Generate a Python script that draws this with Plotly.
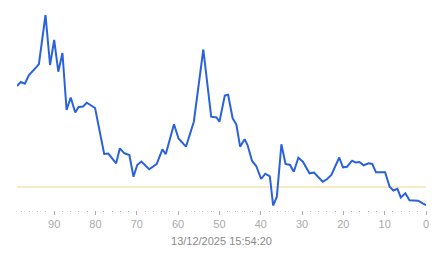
import plotly.graph_objects as go

# x = periods ago (axis reversed), y = value
x_vals = [99, 98.1, 97.1, 96.1, 94.2, 93.7, 92.1, 91, 90, 89, 88, 87, 86, 84.9, 84.1, 83, 82.1, 80.1,
          77.9, 76.9, 75, 74.1, 73, 71.8, 70.8, 69.9, 68.9, 67, 65.2, 63.8, 63, 61, 59.9, 58.1, 56.2,
          53.9, 52, 50.7, 50, 48.7, 47.9, 46.8, 45.9, 45, 43.9, 43.2, 42.1, 41.1, 39.9, 38.9, 37.8,
          37, 36.1, 35, 34, 32.9, 32, 30.9, 29.8, 28.2, 27.1, 26.1, 25, 24, 22.9, 21, 20.1, 19.1,
          17.9, 17.1, 16.1, 15.1, 13.9, 13, 12.1, 9.9, 8.8, 7.9, 6.9, 6.1, 5, 4, 1.9, 0.8, 0]
y_vals = [124, 128, 126.3, 135, 143.3, 146, 195, 145, 170, 138.3, 157, 100, 112.5, 97.5, 103, 103.5, 107.3, 102,
          56, 56.5, 46.7, 61.7, 56.7, 55, 33.3, 45, 48.5, 40.7, 46, 60.7, 55.7, 85.7, 71.5, 63.3, 88.3,
          160.5, 93.3, 92.5, 88.3, 114.5, 115.3, 91.7, 85.5, 63.3, 70.7, 65, 49, 44, 31, 36.3, 33.7,
          4.5, 13.3, 65.7, 46, 45, 38.3, 52.3, 48.3, 36.7, 37.5, 32.7, 28.3, 30.7, 35, 52.5, 42.7, 43.3,
          49.3, 47.5, 48, 44.7, 46.7, 46, 37.7, 37.7, 23.3, 19.5, 21.2, 12.5, 16.7, 9.7, 9.3, 6.7, 5]
threshold = 23
x_extent = [99, 0]
tick_vals = [90, 80, 70, 60, 50, 40, 30, 20, 10, 0]
timestamp = "13/12/2025 15:54:20"

fig = go.Figure()
fig.add_trace(go.Scatter(x=x_extent, y=[threshold, threshold], mode="lines",
                         line=dict(color="#efd98f", width=1), hoverinfo="skip"))
fig.add_trace(go.Scatter(x=x_vals, y=y_vals, mode="lines",
                         line=dict(color="#2a62dc", width=2), hoverinfo="skip"))

fig.update_layout(
    width=443, height=258,
    margin=dict(l=17, r=17, t=0, b=48),
    paper_bgcolor="white", plot_bgcolor="white",
    showlegend=False,
    font=dict(family="Liberation Sans, Arial, sans-serif"),
    xaxis=dict(
        range=[99, 0], showgrid=False, zeroline=False, showline=False,
        tickmode="array", tickvals=tick_vals, ticktext=[str(v) for v in tick_vals],
        ticks="outside", ticklen=4, tickwidth=1, tickcolor="#b0b0b0",
        tickfont=dict(size=11, color="#aaaaaa"),
        minor=dict(dtick=2, tick0=0, ticks="outside", ticklen=1, tickwidth=1, tickcolor="#b8b8b8"),
        title=dict(text=timestamp, font=dict(size=11, color="#8a8a8a"), standoff=8),
    ),
    yaxis=dict(range=[0, 210], visible=False, showgrid=False, zeroline=False),
)

fig.write_html("out.html")
